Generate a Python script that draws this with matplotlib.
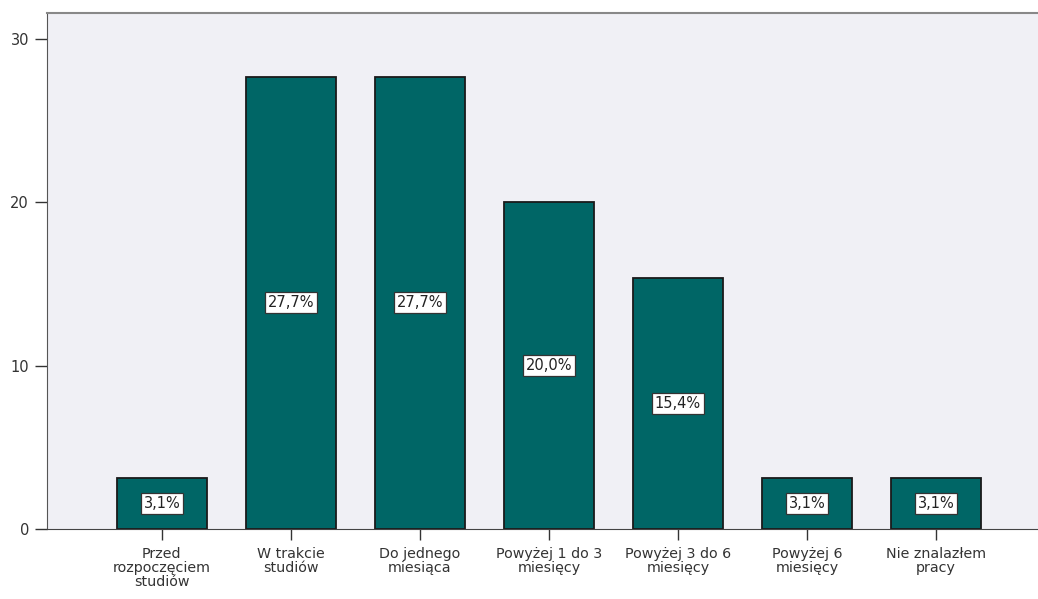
import matplotlib.pyplot as plt

categories = ["Przed\nrozpoczęciem\nstudiów", "W trakcie\nstudiów", "Do jednego\nmiesiąca",
              "Powyżej 1 do 3\nmiesięcy", "Powyżej 3 do 6\nmiesięcy", "Powyżej 6\nmiesięcy",
              "Nie znalazłem\npracy"]
values = [3.1, 27.7, 27.7, 20.0, 15.4, 3.1, 3.1]
yticks = [0, 10, 20, 30]

plt.rcParams['font.family'] = ['DejaVu Sans']

W, H = 1038, 599
fig = plt.figure(figsize=(W / 100, H / 100), dpi=100)
ax = fig.add_axes([47 / W, (H - 529) / H, (W - 47) / W, (529 - 13) / H])
ax.set_facecolor('#f0f0f5')

x = list(range(len(values)))
ax.bar(x, values, width=0.7, color='#006666', edgecolor='#1a1a1a', linewidth=1.3, zorder=2)

for xi, v in zip(x, values):
    lbl = f"{v:.1f}".replace('.', ',') + "%"
    ax.text(xi, v / 2, lbl, ha='center', va='center', fontsize=10.5, color='#222222', zorder=3,
            bbox=dict(boxstyle='square,pad=0.2', facecolor='white', edgecolor='#333333', linewidth=0.9))

ax.set_xlim(-0.89, 6.79)
ax.set_ylim(0, 31.6)
ax.set_yticks(yticks)
ax.set_xticks(x)
ax.set_xticklabels(categories, fontsize=10.3, color='#333333', linespacing=1.0)
ax.tick_params(axis='y', length=9, width=1, color='#333333', labelsize=10.5, labelcolor='#333333', pad=4)
ax.tick_params(axis='x', length=8, width=1, color='#333333', pad=5)

ax.spines['right'].set_visible(False)
ax.spines['top'].set_color('#888888')
ax.spines['top'].set_linewidth(1.5)
ax.spines['left'].set_color('#555555')
ax.spines['bottom'].set_color('#444444')

fig.savefig('out.png', dpi=100)
